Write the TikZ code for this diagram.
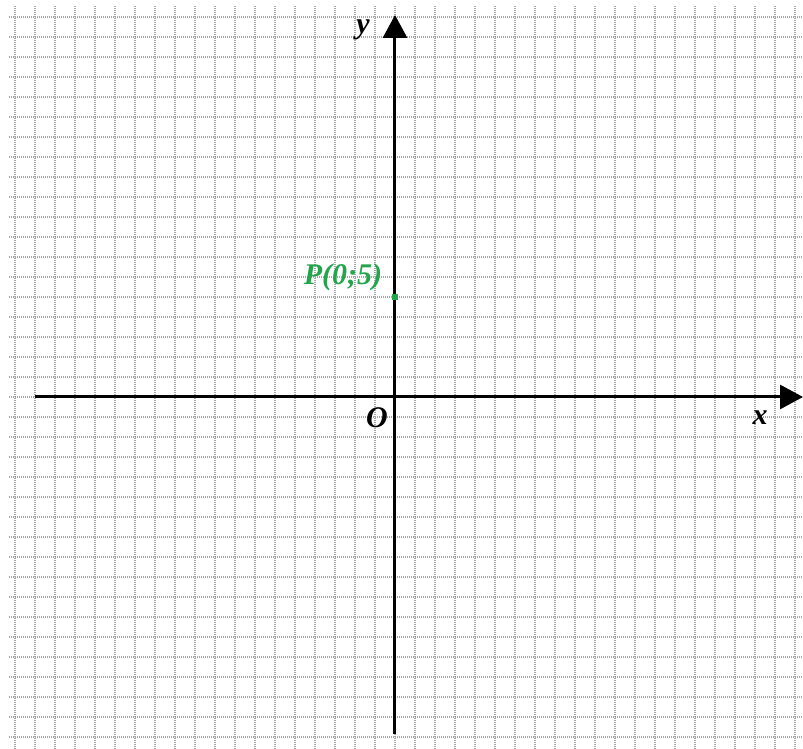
\documentclass[tikz,border=0pt]{standalone}
\usepackage{fontspec}
\setmainfont{Liberation Serif}
\usetikzlibrary{arrows.meta}
\definecolor{pgreen}{RGB}{34,165,75}
\tikzset{
    gridline/.style={gray!70, line width=1.2pt, dash pattern=on 1pt off 1pt, step=20pt},
    axis/.style={line width=3pt, -{Triangle[length=23pt, width=24pt]}},
    axlabel/.style={font=\fontsize{30}{34}\selectfont\bfseries\itshape, inner sep=0pt}
}

\begin{document}
\begin{tikzpicture}[x=20pt, y=20pt]
  \useasboundingbox (-19.75,-17.6) rectangle (20.4,19.85);
  \draw[gridline] (-19.3,-17.6) grid (20.4,19.6);

  \coordinate (x_0) at (-18,0);
  \coordinate (x_1) at (20.4,0);
  \coordinate (y_0) at (0,-16.85);
  \coordinate (y_1) at (0,19.1);
  \draw[axis] (x_0) -- (x_1);
  \draw[axis] (y_0) -- (y_1);

  \node (x) [axlabel] at (18.25,-1.05) {x};
  \node (y) [axlabel] at (-1.6,18.35) {y};
  \node (O) [axlabel] at (-0.9,-1.05) {O};

  \node (P) [rectangle, fill=pgreen, inner sep=0pt, minimum size=6pt] at (0,5) {};
  \node (P_label) [axlabel, text=pgreen] at (-2.6,6.0) {P(0;5)};
\end{tikzpicture}
\end{document}
